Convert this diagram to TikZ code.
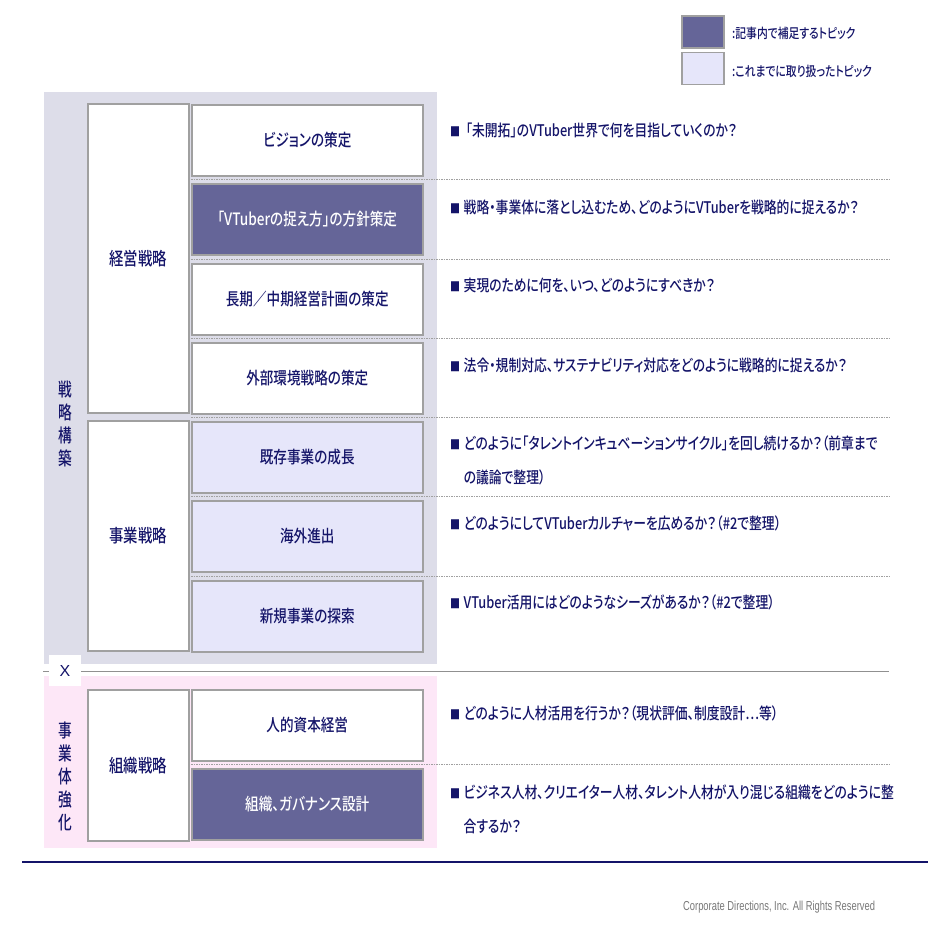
\documentclass[tikz,border=0pt]{standalone}
\usepackage{fontspec}
\newfontfamily\jpf[FakeStretch=0.8, RawFeature=+palt]{Noto Sans CJK JP Medium}
\newfontfamily\jpv[FakeStretch=0.74]{Noto Sans CJK JP Medium}
\newfontfamily\ftf[FakeStretch=0.72]{Liberation Sans}
\newfontfamily\arialf{Liberation Sans}
\definecolor{navy}{RGB}{20,20,105}
\definecolor{darkbox}{RGB}{101,101,152}
\definecolor{lightbox}{RGB}{230,230,250}
\definecolor{panelgray}{RGB}{221,221,233}
\definecolor{panelpink}{RGB}{253,231,247}
\definecolor{boxline}{RGB}{160,160,160}
\definecolor{footgray}{RGB}{120,120,120}
\newcommand{\qb}{{\fontsize{12.5}{34}\selectfont ■}\hspace{3.5pt}}
\begin{document}
\begin{tikzpicture}[x=1pt,y=-1pt,
  cell/.style={draw=boxline, line width=1.5pt, inner sep=0pt, anchor=north west,
    minimum width=231pt, minimum height=71pt, fill=white,
    font=\jpf\fontsize{17}{20}\selectfont, text=navy},
  darkcell/.style={cell, fill=darkbox, text=white},
  lightcell/.style={cell, fill=lightbox},
  groupbox/.style={draw=boxline, line width=1.5pt, inner sep=0pt, anchor=north west,
    minimum width=101pt, fill=white,
    font=\jpf\fontsize{18}{20}\selectfont, text=navy},
  vlabel/.style={align=center, inner sep=0pt, text=navy,
    font=\jpv\fontsize{18.5}{23}\selectfont},
  question/.style={inner sep=0pt, anchor=base west, text=navy,
    font=\jpf\fontsize{16}{34}\selectfont},
  sepline/.style={boxline, line width=1pt, dash pattern=on 1.5pt off 1pt},
  legbox/.style={draw=boxline, line width=1.5pt, inner sep=0pt,
    minimum width=42pt, minimum height=32pt},
  legtext/.style={inner sep=0pt, anchor=west, text=navy,
    font=\jpf\fontsize{13.5}{16}\selectfont}
]
\useasboundingbox (0,0) rectangle (950,950);
\fill[white] (0,0) rectangle (950,950);

% legend
\node[legbox, fill=darkbox] (leg1) at (703,32) {};
\node[legbox, fill=lightbox] (leg2) at (703,68.5) {};
\node[legtext] (legt1) at (732,33) {:記事内で補足するトピック};
\node[legtext] (legt2) at (732,71) {:これまでに取り扱ったトピック};

% panels
\fill[panelgray] (44,92) rectangle (437,664);
\fill[panelpink] (44,676) rectangle (437,848);

% separator with X
\draw[boxline!90!black, line width=1pt] (43,671) -- (889,671);
\node[fill=white, inner sep=0pt, minimum width=32pt, minimum height=31pt,
  text=navy, font=\arialf\fontsize{16}{18}\selectfont] (xlab) at (65,670.5) {X};

% vertical labels
\node[vlabel] (senryaku) at (65,424) {戦\\略\\構\\築};
\node[vlabel] (jigyotai) at (65,776) {事\\業\\体\\強\\化};

% group boxes
\node[groupbox, minimum height=309pt] (keiei) at (87,103) {経営戦略};
\node[groupbox, minimum height=230pt] (jigyo) at (87,420) {事業戦略};
\node[groupbox, minimum height=151pt] (soshiki) at (87,689) {組織戦略};

% topic boxes
\node[cell] (r1) at (191,104) {ビジョンの策定};
\node[darkcell] (r2) at (191,183) {「VTuberの捉え方」の方針策定};
\node[cell] (r3) at (191,263) {長期／中期経営計画の策定};
\node[cell] (r4) at (191,342) {外部環境戦略の策定};
\node[lightcell] (r5) at (191,421) {既存事業の成長};
\node[lightcell] (r6) at (191,500) {海外進出};
\node[lightcell] (r7) at (191,580) {新規事業の探索};
\node[cell] (r8) at (191,689) {人的資本経営};
\node[darkcell] (r9) at (191,768) {組織、ガバナンス設計};

% dotted separators
\foreach \yy in {179,259,338,417,496,576,764}
  \draw[sepline] (191,\yy) -- (889,\yy);

% questions
\node[question] (q1) at (450,136) {\qb\hspace{2pt}「未開拓」のVTuber世界で何を目指していくのか？};
\node[question] (q2) at (450,213) {\qb{}戦略・事業体に落とし込むため、どのようにVTuberを戦略的に捉えるか？};
\node[question] (q3) at (450,291) {\qb{}実現のために何を、いつ、どのようにすべきか？};
\node[question] (q4) at (450,371) {\qb{}法令・規制対応、サステナビリティ対応をどのように戦略的に捉えるか？};
\node[question] (q5) at (450,449) {\qb{}\begin{tabular}[t]{@{}l@{}}どのように「タレントインキュベーションサイクル」を回し続けるか？（前章まで\\の議論で整理）\end{tabular}};
\node[question] (q6) at (450,529) {\qb{}どのようにしてVTuberカルチャーを広めるか？（\#2で整理）};
\node[question] (q7) at (450,608) {\qb{}VTuber活用にはどのようなシーズがあるか？（\#2で整理）};
\node[question] (q8) at (450,719) {\qb{}どのように人材活用を行うか？（現状評価、制度設計…等）};
\node[question] (q9) at (450,798) {\qb{}\begin{tabular}[t]{@{}l@{}}ビジネス人材、クリエイター人材、タレント人材が入り混じる組織をどのように整\\合するか？\end{tabular}};

% bottom rule and footer
\draw[navy, line width=2.5pt] (22,862) -- (928,862);
\node[inner sep=0pt, anchor=west, text=footgray, font=\ftf\fontsize{13}{15}\selectfont]
  (footer) at (683,907) {Corporate Directions, Inc. All Rights Reserved};
\end{tikzpicture}
\end{document}
